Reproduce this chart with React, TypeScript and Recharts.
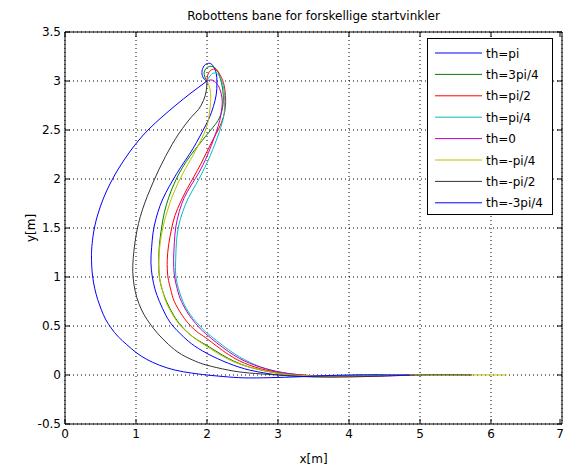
import { LineChart, Line, XAxis, YAxis, CartesianGrid, ReferenceArea } from "recharts";

// robot paths: [x, y] in metres, start at (2, 3)
const thPi = [
  [2.0, 3.0], [1.96, 3.02], [1.93, 3.07], [1.94, 3.13], [1.98, 3.17], [2.04, 3.18], [2.09, 3.15],
  [2.13, 3.08], [2.14, 2.98], [2.13, 2.86], [2.09, 2.74], [2.03, 2.62], [1.94, 2.49], [1.85, 2.37],
  [1.75, 2.25], [1.63, 2.12], [1.52, 1.99], [1.42, 1.86], [1.34, 1.73], [1.28, 1.59], [1.24, 1.45],
  [1.22, 1.3], [1.21, 1.15], [1.23, 1.0], [1.27, 0.87], [1.33, 0.75], [1.42, 0.61], [1.52, 0.5],
  [1.64, 0.41], [1.78, 0.32], [2.0, 0.22], [2.3, 0.12], [2.6, 0.05], [2.9, 0.01], [3.2, -0.01],
  [3.6, -0.015], [4.0, -0.01], [4.4, 0.0],
];
const th3Pi4 = [
  [2.0, 3.0], [1.97, 3.04], [1.96, 3.09], [1.99, 3.13], [2.04, 3.15], [2.1, 3.14], [2.15, 3.1],
  [2.19, 3.02], [2.22, 2.92], [2.23, 2.8], [2.2, 2.67], [2.13, 2.57], [2.03, 2.48], [1.93, 2.39],
  [1.82, 2.29], [1.71, 2.18], [1.61, 2.06], [1.53, 1.94], [1.46, 1.81], [1.4, 1.66], [1.36, 1.5],
  [1.33, 1.33], [1.32, 1.17], [1.33, 1.0], [1.37, 0.87], [1.43, 0.75], [1.53, 0.61], [1.64, 0.5],
  [1.8, 0.39], [2.0, 0.3], [2.3, 0.17], [2.6, 0.08], [2.9, 0.03], [3.2, 0.0], [3.6, -0.01], [4.0, -0.01],
];
const thPi2 = [
  [2.0, 3.0], [2.01, 3.06], [2.04, 3.1], [2.09, 3.12], [2.15, 3.1], [2.2, 3.04], [2.24, 2.96],
  [2.26, 2.85], [2.26, 2.74], [2.23, 2.63], [2.17, 2.52], [2.09, 2.41], [2.0, 2.28], [1.91, 2.15],
  [1.82, 2.03], [1.72, 1.9], [1.63, 1.77], [1.55, 1.63], [1.5, 1.49], [1.46, 1.33], [1.44, 1.17],
  [1.45, 1.0], [1.49, 0.87], [1.54, 0.75], [1.65, 0.61], [1.77, 0.5], [1.88, 0.43], [2.0, 0.37],
  [2.3, 0.21], [2.6, 0.1], [2.9, 0.04], [3.2, 0.01], [3.6, -0.01], [4.2, 0.0],
];
const thPi4 = [
  [2.0, 3.0], [2.04, 3.05], [2.09, 3.08], [2.15, 3.07], [2.2, 3.01], [2.24, 2.91], [2.25, 2.79],
  [2.24, 2.66], [2.2, 2.54], [2.15, 2.43], [2.08, 2.3], [2.01, 2.18], [1.93, 2.06], [1.84, 1.94],
  [1.74, 1.81], [1.66, 1.67], [1.6, 1.52], [1.57, 1.36], [1.56, 1.2], [1.56, 1.02], [1.6, 0.88],
  [1.66, 0.75], [1.77, 0.61], [1.9, 0.5], [2.0, 0.43], [2.3, 0.26], [2.6, 0.13], [2.9, 0.05],
  [3.2, 0.01], [3.6, -0.01], [4.5, 0.0],
];
const th0 = [
  [2.0, 3.0], [2.07, 3.01], [2.13, 2.98], [2.18, 2.92], [2.21, 2.83], [2.21, 2.73], [2.18, 2.6],
  [2.13, 2.48], [2.06, 2.34], [1.98, 2.2], [1.89, 2.07], [1.78, 1.94], [1.68, 1.81], [1.61, 1.67],
  [1.56, 1.51], [1.54, 1.35], [1.53, 1.18], [1.54, 1.02], [1.58, 0.88], [1.64, 0.75], [1.75, 0.61],
  [1.87, 0.5], [2.0, 0.41], [2.3, 0.24], [2.6, 0.12], [2.9, 0.05], [3.2, 0.01], [3.6, -0.01],
  [4.2, -0.015], [4.93, 0.0],
];
const thMinusPi4 = [
  [2.0, 3.0], [2.03, 2.95], [2.05, 2.88], [2.05, 2.78], [2.03, 2.65], [1.99, 2.52], [1.91, 2.39],
  [1.81, 2.25], [1.7, 2.11], [1.6, 1.97], [1.51, 1.82], [1.44, 1.67], [1.38, 1.51], [1.34, 1.34],
  [1.32, 1.17], [1.33, 1.0], [1.37, 0.87], [1.42, 0.75], [1.52, 0.61], [1.63, 0.5], [1.8, 0.39],
  [2.0, 0.29], [2.3, 0.16], [2.6, 0.08], [2.9, 0.03], [3.2, 0.0], [3.6, -0.01], [4.2, -0.01],
  [5.0, 0.0], [6.22, 0.0],
];
const thMinusPi2 = [
  [2.0, 3.0], [1.99, 2.9], [1.95, 2.8], [1.88, 2.71], [1.79, 2.64], [1.7, 2.56], [1.61, 2.47],
  [1.51, 2.355], [1.415, 2.23], [1.325, 2.1], [1.24, 1.965], [1.16, 1.825], [1.09, 1.685],
  [1.035, 1.545], [0.995, 1.4], [0.97, 1.26], [0.955, 1.12], [0.96, 0.99], [0.99, 0.85],
  [1.04, 0.73], [1.11, 0.62], [1.2, 0.52], [1.31, 0.42], [1.46, 0.31], [1.64, 0.21], [1.84, 0.14],
  [2.0, 0.1], [2.3, 0.05], [2.6, 0.02], [3.0, 0.0], [3.5, -0.02], [4.0, -0.02], [4.5, -0.01],
  [5.0, 0.0], [5.73, 0.0],
];
const thMinus3Pi4 = [
  [2.0, 3.0], [1.775, 2.878], [1.563, 2.755], [1.366, 2.633], [1.183, 2.51], [1.03, 2.388],
  [0.9, 2.265], [0.786, 2.143], [0.685, 2.02], [0.599, 1.898], [0.527, 1.776], [0.468, 1.653],
  [0.423, 1.531], [0.393, 1.408], [0.376, 1.286], [0.373, 1.204], [0.376, 1.12], [0.39, 1.0],
  [0.42, 0.88], [0.46, 0.77], [0.51, 0.67], [0.57, 0.57], [0.65, 0.48], [0.75, 0.39], [0.87, 0.31],
  [1.0, 0.23], [1.15, 0.16], [1.33, 0.1], [1.55, 0.05], [1.78, 0.02], [2.0, 0.0], [2.3, -0.02],
  [2.6, -0.03], [3.0, -0.025], [3.4, -0.015], [4.0, 0.0], [4.85, 0.0],
];

const names = ["th=pi", "th=3pi/4", "th=pi/2", "th=pi/4", "th=0", "th=-pi/4", "th=-pi/2", "th=-3pi/4"];
const paths = [thPi, th3Pi4, thPi2, thPi4, th0, thMinusPi4, thMinusPi2, thMinus3Pi4];
// matlab default line order b g r c m y k, then b again
const colors = ["#0000ff", "#008000", "#ff0000", "#00bfbf", "#bf00bf", "#bfbf00", "#333333", "#0000ff"];

const xTicks = [0, 1, 2, 3, 4, 5, 6, 7];
const yTicks = [-0.5, 0, 0.5, 1, 1.5, 2, 2.5, 3, 3.5];

const W = 564;
const H = 469;
const LEFT = 65;
const RIGHT = 562;
const TOP = 32;
const BOTTOM = 424;
const FONT = "'DejaVu Sans', Verdana, sans-serif";

const series = names.map((name, i) => ({
  name,
  color: colors[i],
  data: paths[i].map(([x, y]) => ({ x, y })),
}));

function XTick(props: any) {
  const { x, payload } = props;
  return (
    <g>
      <line x1={x} x2={x} y1={BOTTOM} y2={BOTTOM - 5} stroke="#000" />
      <line x1={x} x2={x} y1={TOP} y2={TOP + 5} stroke="#000" />
      <text x={x} y={BOTTOM + 14} textAnchor="middle" fontSize={12} fontFamily={FONT} fill="#000">
        {payload.value}
      </text>
    </g>
  );
}

function YTick(props: any) {
  const { y, payload } = props;
  return (
    <g>
      <line x1={LEFT} x2={LEFT + 5} y1={y} y2={y} stroke="#000" />
      <line x1={RIGHT} x2={RIGHT - 5} y1={y} y2={y} stroke="#000" />
      <text x={LEFT - 4} y={y + 4} textAnchor="end" fontSize={12} fontFamily={FONT} fill="#000">
        {payload.value}
      </text>
    </g>
  );
}

export default function App() {
  return (
    <div style={{ position: "absolute", left: 0, top: 0, width: W, height: H, background: "#fff" }}>
      <LineChart width={W} height={H} margin={{ top: TOP, right: W - RIGHT, bottom: 0, left: 0 }}>
        <CartesianGrid stroke="#000" strokeDasharray="1 3" />
        <XAxis
          dataKey="x"
          type="number"
          domain={[0, 7]}
          ticks={xTicks}
          height={H - BOTTOM}
          tickLine={false}
          axisLine={false}
          tick={<XTick />}
          allowDataOverflow
        />
        <YAxis
          dataKey="y"
          type="number"
          domain={[-0.5, 3.5]}
          ticks={yTicks}
          width={LEFT}
          tickLine={false}
          axisLine={false}
          tick={<YTick />}
          allowDataOverflow
        />
        {series.map((s) => (
          <Line
            key={s.name}
            data={s.data}
            dataKey="y"
            name={s.name}
            type="natural"
            stroke={s.color}
            strokeWidth={1}
            dot={false}
            isAnimationActive={false}
          />
        ))}
        <ReferenceArea x1={0} x2={7} y1={-0.5} y2={3.5} fill="none" fillOpacity={0} stroke="#000" strokeWidth={1} />
      </LineChart>
      <svg width={W} height={H} style={{ position: "absolute", left: 0, top: 0, pointerEvents: "none" }}>
        <text x={(LEFT + RIGHT) / 2} y={20} textAnchor="middle" fontSize={12} fontFamily={FONT} fill="#000">
          Robottens bane for forskellige startvinkler
        </text>
        <text x={(LEFT + RIGHT) / 2} y={463} textAnchor="middle" fontSize={12} fontFamily={FONT} fill="#000">
          x[m]
        </text>
        <text
          x={0}
          y={0}
          transform={`translate(35, ${(TOP + BOTTOM) / 2}) rotate(-90)`}
          textAnchor="middle"
          fontSize={12}
          fontFamily={FONT}
          fill="#000"
        >
          y[m]
        </text>
        <g>
          <rect x={427.5} y={38.5} width={125} height={176} fill="#fff" stroke="#000" />
          {series.map((s, i) => {
            const cy = 53 + i * 21.4;
            return (
              <g key={s.name}>
                <line x1={435} x2={482} y1={cy} y2={cy} stroke={s.color} />
                <text x={486} y={cy + 4.5} fontSize={12} fontFamily={FONT} fill="#000">
                  {s.name}
                </text>
              </g>
            );
          })}
        </g>
      </svg>
    </div>
  );
}
